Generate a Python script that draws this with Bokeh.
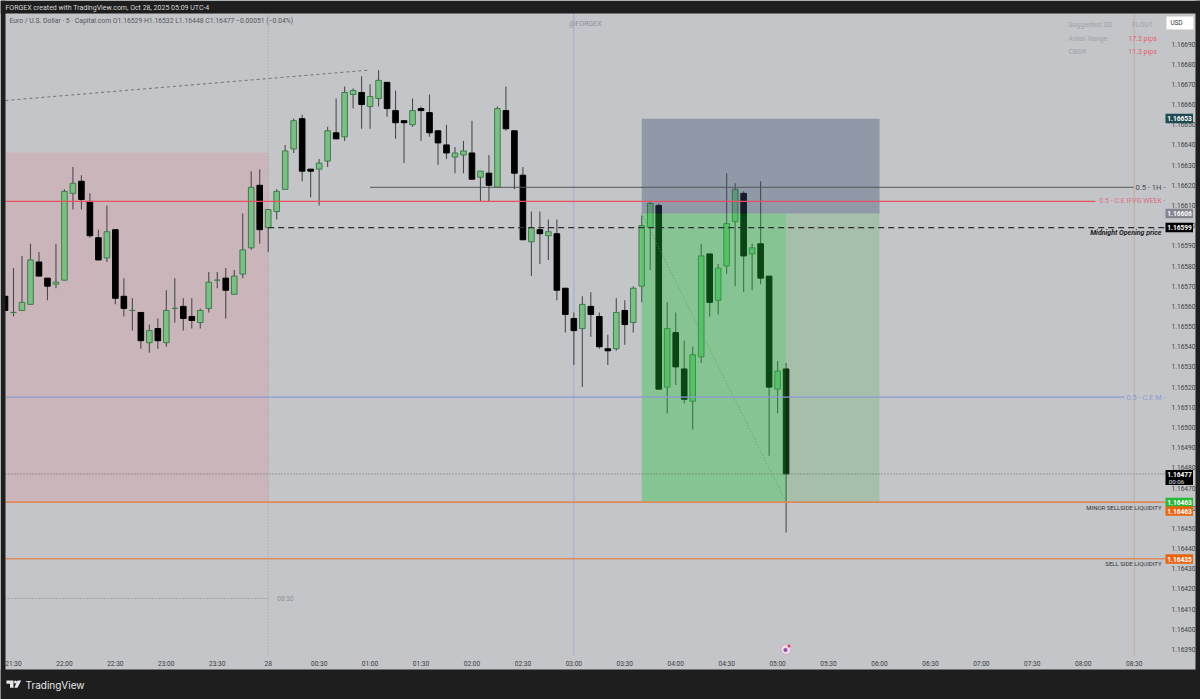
from bokeh.plotting import figure
from bokeh.models import Range1d, ColumnDataSource, FixedTicker, Label, BoxAnnotation, PolyAnnotation, LinearAxis
from bokeh.embed import file_html
from bokeh.resources import INLINE

# ---- data: 5-minute candles, bar index 0 = 21:30, prices in 1e-5 above 1.16
bars = list(range(-1, 92))
opens = [565,557,558,561,582,574,571,573,616,622,612,594,584,598,565,558,557,542,549,542,559,560,555,552,559,573,574,566,576,589,620,599,607,618,638,653,628,628,632,646,644,665,666,659,663,671,657,652,650,658,656,647,640,634,635,636,624,626,619,657,647,625,592,598,595,596,569,554,549,560,555,539,539,558,552,570,599,610,520,547,529,513,535,586,563,580,602,616,586,591,575,519,529]
highs = [565,579,585,591,587,574,591,618,629,625,616,598,610,598,574,564,557,551,554,568,574,564,564,559,577,577,579,578,606,627,628,608,618,640,653,655,628,633,649,663,669,668,674,670,677,671,667,652,663,659,665,647,650,639,642,652,627,635,659,669,647,629,607,607,603,603,569,557,565,567,557,546,564,563,570,605,612,611,562,557,543,540,591,586,581,626,621,617,591,622,575,533,532]
lows = [558,555,558,561,575,563,569,573,608,608,594,583,582,561,555,548,539,537,539,540,552,548,549,549,557,569,554,566,574,588,591,587,603,618,636,622,614,610,629,643,642,658,648,648,659,654,643,631,649,642,644,630,633,626,626,623,612,612,619,647,618,593,575,581,583,563,547,531,520,545,539,531,538,541,547,562,578,519,507,521,512,499,532,555,556,576,570,567,568,571,486,507,448]
closes = [558,557,562,583,575,570,572,617,621,613,595,583,597,564,559,558,543,548,543,558,559,554,553,558,572,573,568,575,588,619,598,608,617,637,652,627,627,631,647,643,666,667,660,664,672,658,651,651,657,657,646,641,636,636,637,623,627,620,658,648,626,593,599,596,597,568,556,548,561,556,540,538,557,551,569,600,611,519,549,530,514,536,585,562,579,601,618,585,589,574,520,528,477]
price_ticks = [0.00390 + 0.0001 * n for n in range(31)]
time_labels = ["21:30","22:00","22:30","23:00","23:30","28","00:30","01:00","01:30","02:00","02:30","03:00","03:30","04:00","04:30","05:00","05:30","06:00","06:30","07:00","07:30","08:00","08:30"]
level_1h = 619
level_ifvg = 612
level_midnight = 599
level_cem = 515
level_minor = 463
level_sell = 435
level_last = 477
target_hi = 653
entry = 606

BG = "#c3c5c9"; DARK = "#1e1e1e"; FONT = "Roboto"

def P(v):
    return 1.16 + v * 1e-5
def X(px):
    return (px - 13.0) / 8.49
def Y(py):
    return 1.16690 - (py - 43.5) / 201835.0

p = figure(width=1200, height=699, output_backend="svg", toolbar_location=None,
           x_range=Range1d(X(0), X(1200)), y_range=Range1d(Y(699), Y(0)),
           x_axis_location=None, y_axis_location=None,
           min_border_left=0, min_border_right=0, min_border_top=0, min_border_bottom=0,
           background_fill_color=BG, border_fill_color=DARK, outline_line_color=None)
p.grid.visible = False

# axes: labels are pulled into the panel with a negative standoff
ya = LinearAxis(ticker=FixedTicker(ticks=[1.16 + t for t in price_ticks]))
ya.major_label_overrides = {1.16 + t: f"{1.16 + t:.5f}" for t in price_ticks}
xa = LinearAxis(ticker=FixedTicker(ticks=[6 * n for n in range(len(time_labels))]))
xa.major_label_overrides = {6 * n: s for n, s in enumerate(time_labels)}
for a in (ya, xa):
    a.level = "annotation"
    a.axis_line_color = None
    a.major_tick_line_color = None
    a.minor_tick_line_color = None
    a.major_label_text_font = FONT
    a.major_label_text_font_size = "6.6px"
    a.major_label_text_color = "#3c3e44"
ya.major_label_standoff = -35
xa.major_label_standoff = -46
p.add_layout(ya, "right")
p.add_layout(xa, "below")

# session box
p.quad(left=X(5), right=30, bottom=P(level_minor), top=Y(152), fill_color="#d9969e", fill_alpha=0.32, line_color=None)

# background guides
p.segment(x0=X(5), x1=30, y0=Y(598), y1=Y(598), line_color="#77797e", line_width=0.8, line_dash="1 2")
p.segment(x0=30, x1=30, y0=Y(655), y1=Y(13), line_color="#a98a86", line_width=0.8, line_dash="1 2")
p.segment(x0=66, x1=66, y0=Y(655), y1=Y(13), line_color="#8fa3dc", line_width=1, line_alpha=0.7)
p.segment(x0=132, x1=132, y0=Y(655), y1=Y(13), line_color="#bfae9d", line_width=1)
p.segment(x0=X(5), x1=42, y0=Y(100), y1=Y(69.5), line_color="#6a6a6a", line_width=0.9, line_dash="3 3")

# candles
src = ColumnDataSource(dict(x=bars, lo=[P(v) for v in lows], hi=[P(v) for v in highs],
                            o=[P(v) for v in opens], c=[P(v) for v in closes],
                            fill=["#7dbd86" if c >= o else "#000000" for o, c in zip(opens, closes)],
                            edge=["#3e7d49" if c >= o else "#000000" for o, c in zip(opens, closes)]))
p.segment(x0="x", x1="x", y0="lo", y1="hi", source=src, line_color="#4a4c4c", line_width=1.1)
p.vbar(x="x", width=0.66, bottom="o", top="c", source=src, fill_color="fill", line_color="edge", line_width=1)

# diagonal
p.segment(x0=74, x1=91, y0=P(entry), y1=P(level_minor), line_color="#6c8c76", line_width=0.9, line_dash="1 2")

# position boxes
p.quad(left=74, right=102, bottom=P(entry), top=P(target_hi), fill_color="#36506c", fill_alpha=0.37, line_color=None)
p.quad(left=74, right=91, bottom=P(level_minor), top=P(entry), fill_color="#1cc237", fill_alpha=0.36, line_color=None)
p.quad(left=91, right=102, bottom=P(level_minor), top=P(entry), fill_color="#4caf50", fill_alpha=0.25, line_color=None)

# levels
xmax = X(1165)
p.segment(x0=42, x1=X(1133), y0=P(level_1h), y1=P(level_1h), line_color="#55575a", line_width=1)
p.segment(x0=X(5), x1=X(1095), y0=P(level_ifvg), y1=P(level_ifvg), line_color="#e8505f", line_width=1.3)
p.segment(x0=30, x1=xmax, y0=P(level_midnight), y1=P(level_midnight), line_color="#2e2e2e", line_width=1.3, line_dash="6 4")
p.segment(x0=X(5), x1=X(1124), y0=P(level_cem), y1=P(level_cem), line_color="#8a9ad6", line_width=1.2)
p.segment(x0=X(5), x1=xmax, y0=P(level_last), y1=P(level_last), line_color="#55575a", line_width=0.8, line_dash="1 2")
p.segment(x0=X(5), x1=xmax, y0=P(level_minor), y1=P(level_minor), line_color="#dc8a5c", line_width=1.6)
p.segment(x0=X(5), x1=xmax, y0=P(level_sell), y1=P(level_sell), line_color="#dc8a5c", line_width=1.6)

# dark frame round the panel
for l, r, t, b in [(0, 1200, 0, 13), (0, 1200, 669, 699), (0, 5, 0, 699), (1195, 1200, 0, 699)]:
    p.quad(left=X(l), right=X(r), top=Y(t), bottom=Y(b), fill_color=DARK, line_color=None)

def text(px, py, s, color="#333333", size=8, align="left", style="normal", font=FONT):
    p.add_layout(Label(x=X(px), y=Y(py), text=s, text_color=color, text_font_size=f"{size}px", level="overlay",
                       text_align=align, text_baseline="middle", text_font_style=style, text_font=font))

def tag(py, s, fill, h=9.5):
    p.add_layout(BoxAnnotation(left=X(1165), right=X(1192.5), bottom=Y(py + h / 2), top=Y(py - h / 2), level="overlay",
                               fill_color=fill, fill_alpha=1, line_alpha=0))
    text(1179, py, s, "#ffffff", 6.6, "center", "bold")

# level captions
text(1165, 186.5, "0.5 - 1H -", "#4a4c50", 7.6, "right")
text(1165, 200.5, "0.5 - C.E IFVG WEEK -", "#de6e78", 7, "right")
text(1161, 232.5, "Midnight Opening price", "#222222", 7, "right", "bold italic")
text(1165, 396.5, "0.5 - C.E M -", "#8a9ad6", 7.4, "right")
text(1161, 506.5, "MINOR SELLSIDE LIQUIDITY", "#333333", 6, "right")
text(1161, 563, "SELL SIDE LIQUIDITY", "#333333", 6, "right")
text(285, 598, "08:30", "#8f9196", 6.6, "center")
text(585, 23, "@FORGEX", "#8f9196", 7, "center")

# table
for py, a, b, col in [(24, "Suggested SD", "FLOUT", "#a0a2a6"), (38, "Asian Range", "17.3 pips", "#e8606a"), (51, "CBDR", "11.3 pips", "#e8606a")]:
    text(1068, py, a, "#a0a2a6", 7)
    text(1142, py, b, col, 7, "center")

# tags
tag(118, "1.16653", "#1f4a52")
tag(213, "1.16606", "#83858f")
tag(227, "1.16599", "#000000")
p.add_layout(BoxAnnotation(left=X(1165), right=X(1192.5), bottom=Y(484.5), top=Y(469.5), fill_color="#000000", fill_alpha=1, line_alpha=0, level="overlay"))
text(1179, 474, "1.16477", "#ffffff", 6.6, "center", "bold")
text(1176, 481, "00:06", "#e0e0e0", 6.2, "center")
tag(502, "1.16463", "#27b83a")
tag(510.5, "1.16463", "#e8640f")
tag(558.5, "1.16435", "#e8640f")
p.add_layout(BoxAnnotation(left=X(1166), right=X(1193), bottom=Y(29), top=Y(16), fill_color="#ffffff", fill_alpha=1, line_alpha=0, level="overlay"))
text(1176, 22.5, "USD", "#333333", 6.4, "center")

# split marker
p.scatter(x=[X(785.5)], y=[Y(649)], size=10, marker="circle", fill_color="#ecdcea", line_color="#d3a8cf", line_width=1)
p.scatter(x=[X(785)], y=[Y(649.5)], size=4, marker="circle", fill_color="#8a4fa8", line_color=None)
p.scatter(x=[X(788.5)], y=[Y(645.5)], size=3, marker="circle", fill_color="#e0405a", line_color=None)

# header and footer
text(5, 7.5, "FORGEX created with TradingView.com, Oct 28, 2025 05:09 UTC-4", "#d8d8d8", 7)
text(9, 20.5, "Euro / U.S. Dollar \u00b7 5 \u00b7 Capital.com   O1.16529  H1.16532  L1.16448  C1.16477  \u22120.00051 (\u22120.04%)", "#55575c", 6.8)
text(25, 684, "TradingView", "#e8e8e8", 10, "left", "normal", "Inter")
p.add_layout(PolyAnnotation(xs=[X(v) for v in (6, 13, 13, 9.5, 9.5, 6)], ys=[Y(v) for v in (680, 680, 687.3, 687.3, 683.2, 683.2)], level="overlay",
                            fill_color="#e8e8e8", fill_alpha=1, line_alpha=0))
p.add_layout(PolyAnnotation(xs=[X(v) for v in (17, 20.7, 17, 13.8)], ys=[Y(v) for v in (680, 680, 687.3, 687.3)], level="overlay",
                            fill_color="#e8e8e8", fill_alpha=1, line_alpha=0))
p.scatter(x=[X(15)], y=[Y(681.6)], size=3, marker="circle", fill_color="#e8e8e8", line_color=None)

open("out.html", "w").write(file_html(p, INLINE))
